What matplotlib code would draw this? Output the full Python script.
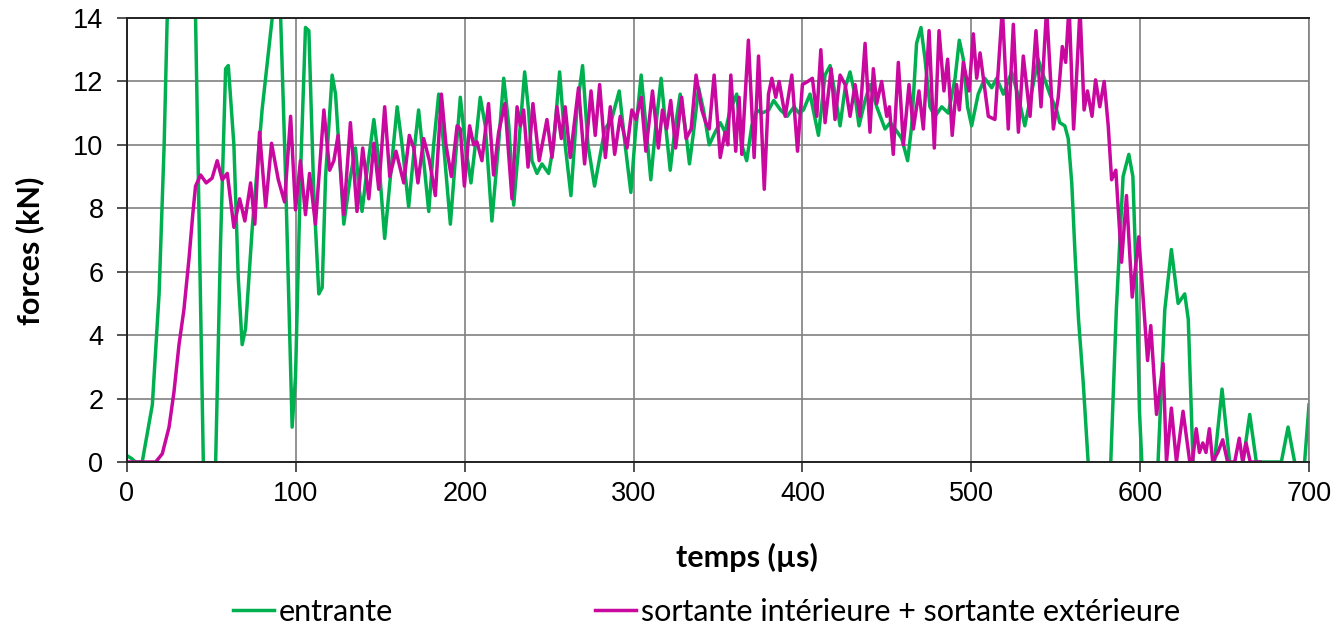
import numpy as np
import matplotlib
matplotlib.use("Agg")
import matplotlib.pyplot as plt

# entrante (green) - temps en µs / force en kN
t_entr = [0, 3, 5, 9, 15, 19, 22, 24, 30, 36, 40.6, 42.6, 45.2, 48, 52.5, 55.4, 58.4, 60, 63.3, 65.9,
          68.2, 70.2, 74.2, 80, 86, 88.5, 91, 93.9, 97.8, 99.8, 102.7, 105.7, 107.7, 110.6, 113.6, 115.6,
          117.6, 121.5, 123.5, 128.4, 132.3, 135.3, 137.3, 139.2, 141.2, 146.2, 149.1, 152.6, 156, 160,
          162.9, 166.8, 169.8, 172.7, 175.7, 178.7, 181.6, 184.6, 187.5, 191.5, 194.4, 197.4, 200.4, 203.7,
          206.3, 209.2, 212.2, 216.1, 220, 223.1, 226.1, 229, 232, 235.5, 237.8, 239.8, 242.8, 245.7,
          249.7, 252.6, 256.2, 259.5, 262.9, 266.4, 269.8, 273, 276.9, 283, 287, 291.5, 295, 298.4, 301,
          304.5, 307.5, 310.2, 313, 316.3, 319, 321.7, 324.5, 327.6, 330.5, 333.1, 335.5, 338.5, 341.4,
          344.8, 348.3, 351.3, 354.2, 357.2, 361.1, 364.1, 367, 370, 373, 376, 380, 383, 387, 391, 395,
          398, 400.6, 404.5, 409.5, 413.4, 416.4, 419.3, 422.3, 425.3, 428.2, 431, 433.5, 437.1, 440, 444,
          448.9, 452, 455, 458.8, 462.3, 464.7, 467.6, 470.2, 472.6, 475.5, 478.5, 482.5, 486.4, 490.4,
          492.9, 495.3, 497.8, 500.2, 504.1, 508, 512.1, 515, 519, 523.9, 527.5, 531.7, 535.5, 539.6,
          542.6, 546.5, 550.5, 552.4, 555.4, 557.4, 559.5, 561.5, 563.5, 566.3, 569.2, 575, 582.6, 585.9,
          589.9, 593.3, 595.7, 597.7, 599.6, 601, 605, 610.6, 614.6, 618.5, 622.5, 626.4, 628.5, 631.3,
          637, 644, 648.5, 653, 657, 660.9, 664.9, 668.8, 683.6, 687.6, 691.5, 694, 697.4, 700]
f_entr = [0.2, 0.1, 0, 0, 1.8, 5.3, 10, 14.5, 22, 18, 14, 7.9, 0, -2, 0, 6.9, 12.4, 12.5, 10, 5.8,
          3.7, 4.2, 7.4, 11.1, 14, 15.5, 14, 9, 1.1, 2.7, 9, 13.7, 13.6, 8.5, 5.3, 5.5,
          9, 12.2, 11.6, 7.5, 9, 9.9, 8.7, 7.9, 8.8, 10.8, 9.5, 7.05, 9, 11.2,
          10, 8.05, 9.7, 11.1, 9.5, 7.9, 10, 11.6, 10, 7.5, 9.5, 11.5, 10, 8.8,
          10, 11.5, 10.6, 7.6, 10, 12.1, 10.6, 8.1, 10, 12.3, 11.1, 9.5, 9.1, 9.4,
          9.1, 10, 12.3, 10, 8.4, 11.1, 12.5, 10, 8.7, 10.5, 10.8, 11.7, 10, 8.5, 10.3,
          12.2, 10.5, 8.9, 10.5, 12.1, 10.6, 9.2, 10.5, 11.6, 10.6, 9.4, 10.4, 11.8, 11.1,
          10, 10.4, 10.7, 10.4, 11.1, 11.6, 10, 9.5, 10.6, 11.1, 11, 11.1, 11.4, 11.1, 10.9, 11.2,
          11, 11.1, 11.6, 10.3, 12.2, 12.5, 11.6, 10.6, 11.8, 12.3, 11.6, 10.6, 11.4, 11.9, 11.2,
          10.5, 10.7, 10.5, 10.2, 9.5, 10.6, 13.2, 13.7, 12.7, 11.2, 10.9, 11.2, 11, 12.1,
          13.3, 12.7, 11.2, 10.6, 11.6, 12.1, 11.8, 12.1, 11.6, 12.3, 11.6, 10.6, 11.6, 12.7,
          12.2, 11.6, 11.1, 10.7, 10.6, 10.2, 8.8, 6.5, 4.5, 2.5, 0, -3, 0, 4.8,
          9, 9.7, 9, 5.8, 1.6, 0, -2, 0, 4.8, 6.7, 5, 5.3, 4.5, 0,
          -1, 0, 2.3, 0, -0.8, 0, 1.5, 0, 0, 1.1, 0, -0.5, 0, 1.8]

# sortante intérieure + sortante extérieure (magenta)
t_sort = [0, 17, 20.9, 24.9, 27.8, 30.8, 33.7, 36.7, 39.1, 40.6, 43.6, 46.9, 50.4, 53.4, 56.4, 59.4,
          63.3, 66.7, 69.8, 73.2, 75.7, 78.5, 82.1, 85.6, 89.6, 93.3, 96.9, 99.8, 102.7, 105.7, 108.1,
          111.6, 116.6, 120, 122.5, 125, 128.4, 132.3, 136.2, 139.6, 143.2, 146.2, 149.1, 152.6, 155.6,
          159.3, 163.9, 167.2, 169.8, 172.3, 175.7, 179.1, 182.6, 186.2, 188.9, 192.1, 195.5, 197.4,
          199.8, 202.9, 205.3, 207.2, 210.2, 214.1, 217.1, 220.1, 223.8, 228, 231, 233, 234.9, 237.5,
          240.4, 244.1, 248.7, 251.7, 254.6, 257.2, 259.5, 262.5, 267.4, 271, 274.8, 277.3, 279.9, 283.3,
          286.2, 288.8, 292.1, 296.1, 299, 301.4, 304.5, 307.3, 311.2, 314.7, 317.1, 319.6, 322, 324.9,
          328.5, 331.1, 334.1, 337, 340.4, 342.8, 344.8, 347.7, 351.3, 354.2, 355.8, 357.6, 360.5, 362.5,
          364.1, 368, 371.4, 374, 377.4, 379.9, 381.9, 384.2, 386.2, 389.8, 393.7, 397.1, 400, 403.2,
          405.9, 408.5, 410.9, 413.4, 417, 419.3, 422.3, 425.3, 428.2, 431.2, 434.1, 437.1, 440, 442,
          444, 446.9, 449.9, 451.5, 453.8, 456.8, 459.8, 463.1, 465.7, 469, 471.6, 475, 478.1, 480.9,
          483.8, 486, 488.7, 491.3, 492.9, 495.3, 498.7, 501.2, 503.2, 505.2, 510.1, 514, 518.4, 521.9,
          524.9, 527.9, 530.8, 534.8, 538.3, 541.3, 544.6, 548.6, 551.5, 553.9, 555.9, 557.9, 560.6,
          562.4, 564.4, 566.8, 568.8, 571.5, 573.6, 576.1, 578.7, 581.1, 583.1, 585.6, 589, 591.9,
          595.3, 599.2, 604.4, 606.3, 609.7, 613.6, 615.6, 618.5, 621.5, 625.4, 629.4, 631, 633.2,
          635.1, 637.1, 639, 641, 643, 646, 648.9, 651.8, 656, 658.7, 660.7, 662.7, 665.2, 671]
f_sort = [0, 0, 0.26, 1.1, 2.2, 3.7, 4.8, 6.4, 7.9, 8.7, 9.05, 8.8, 8.95, 9.5, 8.9, 9.1,
          7.4, 8.3, 7.6, 8.8, 7.5, 10.4, 8.05, 10.05, 8.9, 8.2, 10.9, 7.95, 9.5, 7.8, 9.1,
          7.5, 11.1, 9.2, 9.5, 10.3, 7.8, 10.7, 7.9, 9.9, 8.3, 10.05, 8.6, 11.2, 9,
          9.8, 8.8, 10.3, 9.9, 8.8, 10.2, 9.5, 8.4, 11.6, 10, 9, 10.6, 10.5,
          8.7, 10.6, 10, 10.1, 9.5, 11.3, 9.05, 10.4, 11.3, 8.3, 11.2, 10.6, 11.1, 9.3,
          11.3, 9.5, 10.8, 9.6, 11.2, 10.2, 11.2, 9.6, 11.8, 9.4, 11.7, 10.3, 11.9, 9.6,
          11.2, 9.7, 10.9, 9.9, 11.1, 10.8, 11.5, 9.8, 11.7, 9.9, 11.1, 10.5, 11.4, 9.9,
          11.5, 10.2, 10.5, 12.2, 11.1, 10.7, 10.5, 12.2, 9.6, 10.4, 10, 12.2, 9.8, 11.5,
          9.7, 13.3, 9.6, 12.8, 8.6, 11.6, 12.1, 11.5, 12, 10.9, 12.2, 9.8, 11.9, 12,
          12.1, 10.9, 13, 10.7, 12.4, 10.8, 12.2, 11.9, 10.9, 11.9, 10.9, 13.2, 10.4, 12.4,
          11.3, 12, 10.9, 11.2, 9.7, 12.6, 10, 11.9, 10.5, 11.7, 10.5, 13.6, 9.9, 13.6,
          11.7, 12.7, 10.3, 11.9, 11.1, 12.6, 11.7, 13.5, 12.1, 12.9, 10.9, 10.8, 14.3, 10.5,
          13.8, 10.4, 12.8, 10.9, 13.6, 11.2, 14.3, 10.5, 11.5, 13.1, 12.6, 14.4, 10.5,
          12.2, 14.3, 11.1, 11.7, 10.9, 12.05, 11.2, 12, 10.6, 8.9, 9.2, 6.3, 8.4,
          5.2, 7.1, 3.2, 4.3, 1.5, 3.1, 0, 1.7, 0, 1.6, 0, 0, 1.05,
          0.3, 0.6, 0.3, 1.05, 0, 0.3, 0.7, 0, 0, 0.75, 0, 0.6, 0, 0]

xticks = [0, 100, 200, 300, 400, 500, 600, 700]
yticks = [0, 2, 4, 6, 8, 10, 12, 14]

vert = '#00B050'
magenta = '#C8089F'

plt.rcParams['font.family'] = ['Lato', 'DejaVu Sans']

W, H = 1342, 627
fig = plt.figure(figsize=(W / 100, H / 100), dpi=100)
ax = fig.add_axes([127 / W, 1 - 462 / H, 1182 / W, 444 / H])

ax.plot(t_entr, f_entr, color=vert, lw=2.5, label='entrante', solid_joinstyle='round')
ax.plot(t_sort, f_sort, color=magenta, lw=2.5, label='sortante intérieure + sortante extérieure',
        solid_joinstyle='round')

ax.set_xlim(0, 700)
ax.set_ylim(0, 14)
ax.set_xticks(xticks)
ax.set_yticks(yticks)
for lab in ax.get_xticklabels() + ax.get_yticklabels():
    lab.set_fontfamily('Liberation Sans')
ax.tick_params(labelsize=19.5, length=7, width=1.2, direction='out', color='#333333')
ax.tick_params(axis='x', pad=7)
ax.tick_params(axis='y', pad=10)
ax.grid(True, color='#808080', lw=1.2)
ax.set_axisbelow(True)
for s in ['left', 'bottom', 'top']:
    ax.spines[s].set_color('#222222')
    ax.spines[s].set_linewidth(1.4)
ax.spines['right'].set_color('#808080')
ax.spines['right'].set_linewidth(1.2)

# titres des axes (Excel les place un peu decales)
fig.text(747 / W, 1 - 557 / H, 'temps (µs)', fontsize=22, fontweight='bold', ha='center', va='center')
fig.text(30 / W, 1 - 251 / H, 'forces (kN)', fontsize=22, fontweight='bold', ha='center', va='center',
         rotation=90)

fig.legend(loc='center left', bbox_to_anchor=(233 / W, 1 - 612 / H), ncol=2, frameon=False, fontsize=22,
           handlelength=1.34, handletextpad=0.16, columnspacing=6.6, borderpad=0, borderaxespad=0)

fig.savefig('out.png', dpi=100)
